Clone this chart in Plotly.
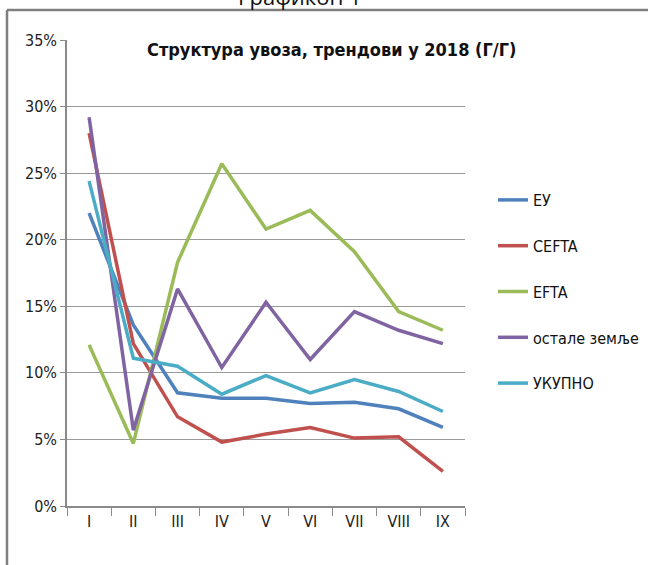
import plotly.graph_objects as go

categories = ["I", "II", "III", "IV", "V", "VI", "VII", "VIII", "IX"]
eu = [22.0, 13.6, 8.5, 8.1, 8.1, 7.7, 7.8, 7.3, 5.9]
cefta = [28.0, 12.2, 6.7, 4.8, 5.4, 5.9, 5.1, 5.2, 2.6]
efta = [12.1, 4.7, 18.3, 25.7, 20.8, 22.2, 19.1, 14.6, 13.2]
ostale = [29.2, 5.7, 16.3, 10.4, 15.3, 11.0, 14.6, 13.2, 12.2]
ukupno = [24.4, 11.1, 10.5, 8.4, 9.8, 8.5, 9.5, 8.6, 7.1]

series_names = ["ЕУ", "CEFTA", "EFTA", "остале земље", "УКУПНО"]
series_values = [eu, cefta, efta, ostale, ukupno]
colors = ["#4F81BD", "#C0504D", "#9BBB59", "#8064A2", "#4BACC6"]

FONT = "Liberation Sans Narrow, DejaVu Sans Condensed, Arial Narrow, sans-serif"

fig = go.Figure()
for i, (name, vals, col) in enumerate(zip(series_names, series_values, colors)):
    fig.add_trace(go.Scatter(
        x=categories, y=[v / 100 for v in vals], mode="lines", name=name,
        line=dict(color=col, width=3.5), legendgroup=str(i),
    ))

L, R, T, B = 67, 183, 40, 59
W, H = 648, 565
pw, ph = W - L - R, H - T - B

def px(x):
    return (x - L) / pw

def py(y):
    return (H - B - y) / ph

fig.update_layout(
    width=W, height=H,
    margin=dict(l=L, r=R, t=T, b=B, autoexpand=False),
    paper_bgcolor="white", plot_bgcolor="white",
    font=dict(family=FONT, size=16, color="#222"),
    showlegend=True,
    legend=dict(x=px(493), y=py(183), xanchor="left", yanchor="top",
                font=dict(family=FONT, size=16, color="#111"),
                tracegroupgap=22, bgcolor="rgba(0,0,0,0)"),
    xaxis=dict(type="category", showgrid=False, showline=True,
               linecolor="#8a8a8a", linewidth=1.5, ticks="outside",
               tickson="boundaries", ticklen=8, tickcolor="#8a8a8a",
               tickfont=dict(family=FONT, size=16, color="#222"),
               range=[-0.5, 8.5]),
    yaxis=dict(range=[0, 0.35], dtick=0.05, tickformat=".0%",
               showgrid=True, gridcolor="#9a9a9a", gridwidth=1.2,
               showline=True, linecolor="#8a8a8a", linewidth=1.5,
               ticks="outside", ticklen=5, tickcolor="#8a8a8a",
               tickfont=dict(family=FONT, size=16, color="#222"),
               zeroline=False),
    annotations=[
        dict(text="<b>Структура увоза, трендови у 2018 (Г/Г)</b>",
             xref="paper", yref="paper", x=px(331), y=py(50),
             xanchor="center", yanchor="middle", showarrow=False,
             font=dict(family=FONT, size=18, color="#111")),
        dict(text="Графикон 1", xref="paper", yref="paper",
             x=px(300), y=py(13), xanchor="center", yanchor="bottom",
             showarrow=False, font=dict(family="Open Sans, sans-serif", size=22, color="#111")),
    ],
    shapes=[
        dict(type="line", xref="paper", yref="paper", x0=px(7), x1=px(7),
             y0=py(10), y1=py(570), line=dict(color="#808080", width=2.5)),
        dict(type="line", xref="paper", yref="paper", x0=px(7), x1=px(650),
             y0=py(10), y1=py(10), line=dict(color="#808080", width=2.5)),
    ],
)

fig.write_html("out.html", config={"displayModeBar": False},
               post_script="document.body.style.margin='0';document.body.style.overflow='hidden';")
